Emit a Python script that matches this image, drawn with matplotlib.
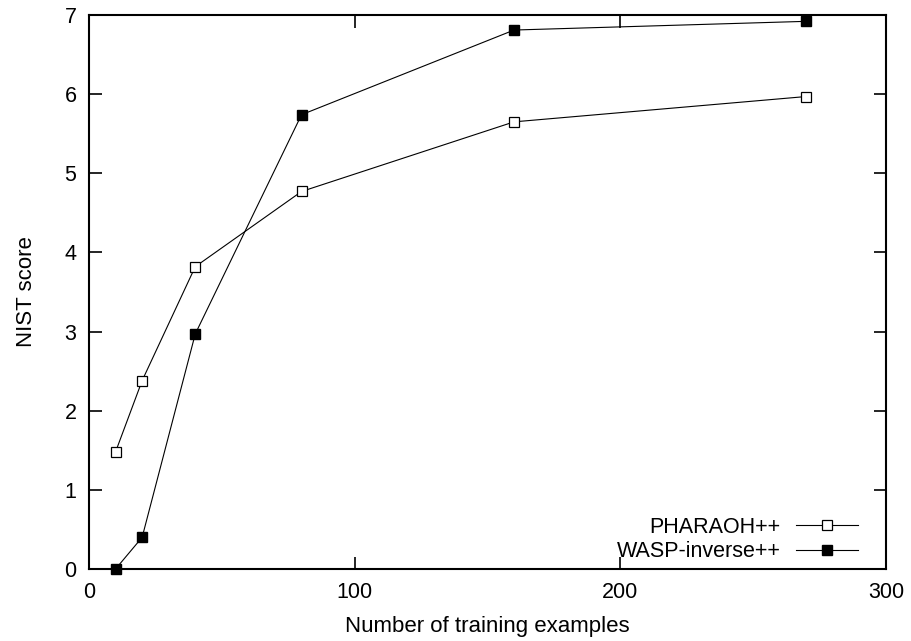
import matplotlib
matplotlib.use("Agg")
import matplotlib.pyplot as plt

plt.rcParams['font.family'] = ['Liberation Sans', 'DejaVu Sans']

train_sizes = [10, 20, 40, 80, 160, 270]
pharaoh = [1.48, 2.38, 3.82, 4.77, 5.65, 5.97]
wasp_inverse = [0.0, 0.40, 2.97, 5.74, 6.81, 6.92]

fig = plt.figure(figsize=(9.12, 6.41), dpi=100)
ax = fig.add_axes([89/912, 1 - 569/641, (886-89)/912, (569-15)/641])

ax.plot(train_sizes, pharaoh, color='black', lw=0.8, marker='s', ms=7,
        mfc='white', mec='black', mew=0.9, label='PHARAOH++', clip_on=False, zorder=3)
ax.plot(train_sizes, wasp_inverse, color='black', lw=0.8, marker='s', ms=7.6,
        mfc='black', mec='black', label='WASP-inverse++', clip_on=False, zorder=3)

ax.set_xlim(0, 300)
ax.set_ylim(0, 7)
ax.set_xticks([0, 100, 200, 300])
ax.set_yticks(range(0, 8))
ax.tick_params(direction='in', top=True, right=True, length=9, width=1.2,
               labelsize=15.5, pad=9)
for s in ax.spines.values():
    s.set_linewidth(1.5)

ax.set_xlabel('Number of training examples', fontsize=16, labelpad=10)
ax.set_ylabel('NIST score', fontsize=16, labelpad=20)

leg = ax.legend(loc='lower right', markerfirst=False, frameon=False, fontsize=15.5,
                handlelength=2.9, handletextpad=0.7, labelspacing=0.16,
                borderaxespad=0, borderpad=0, bbox_to_anchor=(0.965, 0.012))
for t in leg.get_texts():
    t.set_ha('right')

fig.savefig('out.png', dpi=100)
